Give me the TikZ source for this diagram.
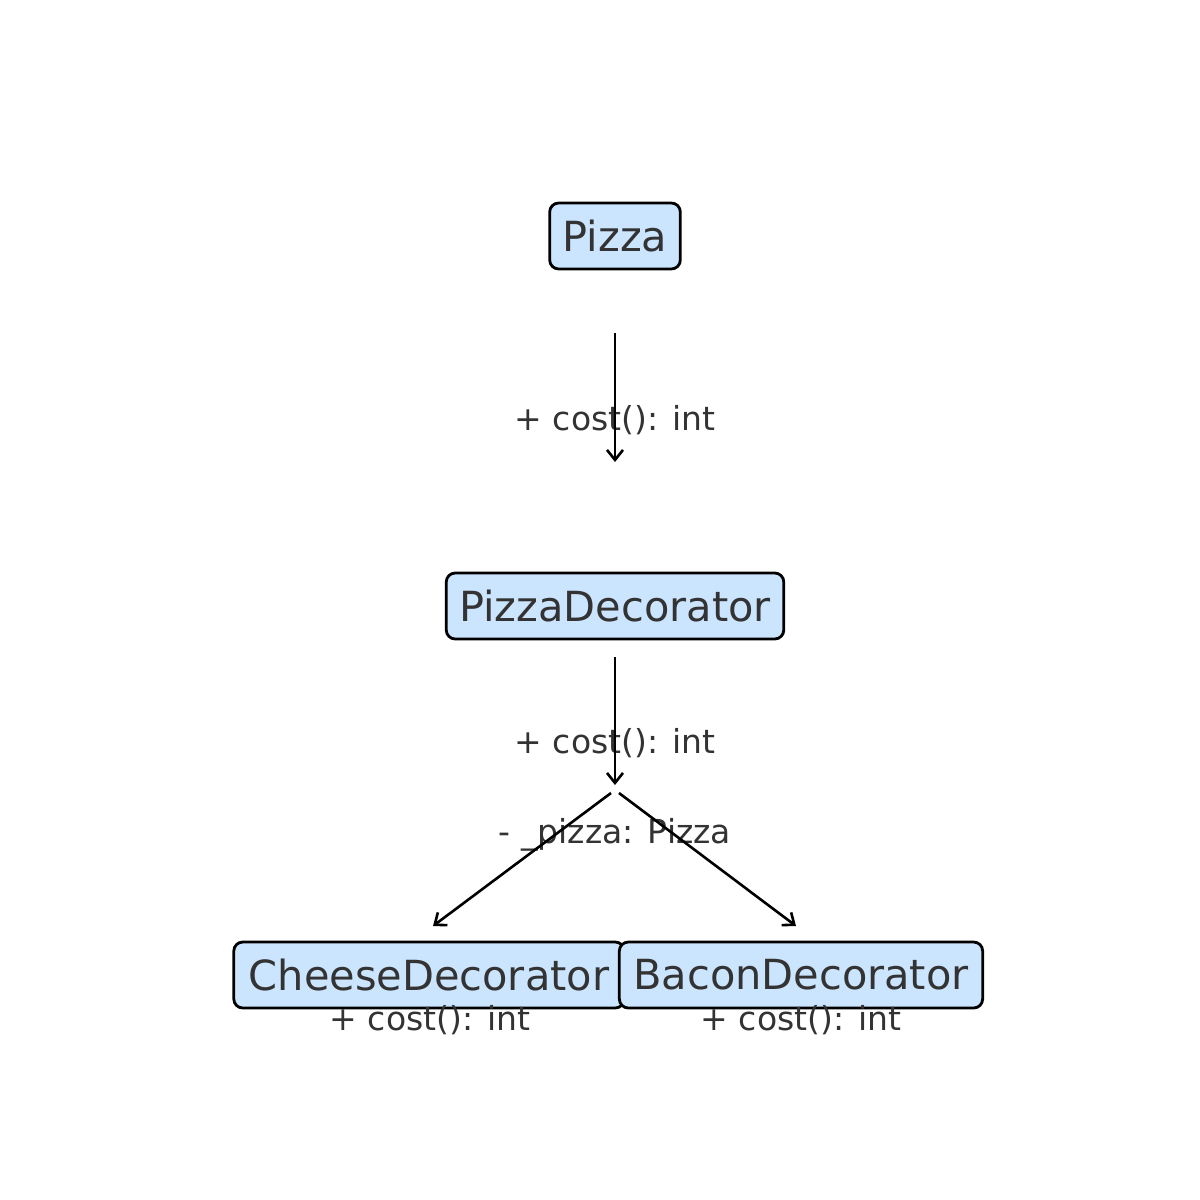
\documentclass[tikz,border=0pt]{standalone}
\usepackage{fontspec}
\setmainfont{DejaVu Sans}
\usetikzlibrary{arrows.meta}
\definecolor{boxfill}{HTML}{CCE5FF}
\definecolor{txt}{HTML}{333333}
\begin{document}
\begin{tikzpicture}[x=1pt,y=-1pt,
  cls/.style={draw=black,line width=2.8pt,fill=boxfill,rounded corners=9pt,
    minimum height=66pt,inner xsep=13pt,inner ysep=0pt,text=txt,
    font=\fontsize{41.5}{41.5}\selectfont},
  lbl/.style={text=txt,font=\fontsize{33}{33}\selectfont,inner sep=0pt},
  conn/.style={line width=2.6pt,-{Straight Barb[length=10pt,width=16pt,line width=2.6pt]}}]
\useasboundingbox (0,0) rectangle (1200,1200);
% nodes
\node[cls] (pizza) at (615,236) {Pizza};
\node[cls] (dec) at (615,606) {PizzaDecorator};
\node[cls,inner xsep=15pt] (cheese) at (429,975) {CheeseDecorator};
\node[cls,inner xsep=14pt] (bacon) at (801,975) {BaconDecorator};
% labels
\node[lbl] (l1) at (615,420) {+ cost(): int};
\node[lbl] (l2) at (615,743) {+ cost(): int};
\node[lbl] (l3) at (615,835) {- \_pizza: Pizza};
\node[lbl] (l4) at (430,1020) {+ cost(): int};
\node[lbl] (l5) at (801,1020) {+ cost(): int};
% connector coordinates
\coordinate (a1s) at (615,333);
\coordinate (a1e) at (615,462);
\coordinate (a2s) at (615,657);
\coordinate (a2e) at (615,785);
\coordinate (jl) at (611,793);
\coordinate (jr) at (619,793);
\coordinate (cl) at (433,926);
\coordinate (cr) at (796,926);
\draw[conn] (a1s) -- (a1e);
\draw[conn] (a2s) -- (a2e);
\draw[conn] (jl) -- (cl);
\draw[conn] (jr) -- (cr);
\end{tikzpicture}
\end{document}
